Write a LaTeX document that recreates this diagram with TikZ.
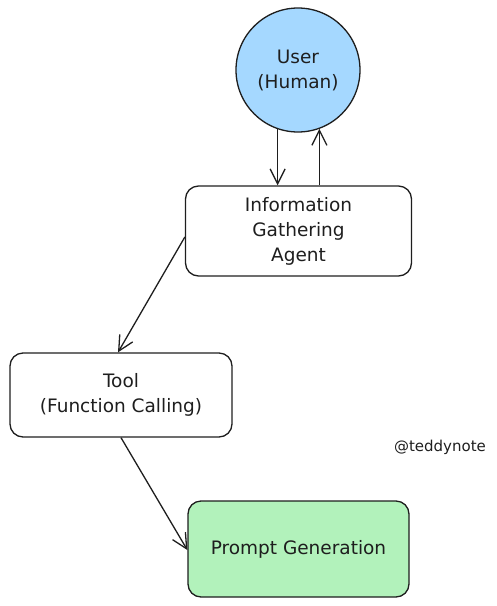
\documentclass[tikz,border=0pt]{standalone}
\usepackage{fontspec}
\setmainfont{DejaVu Sans}
\usetikzlibrary{positioning, arrows.meta}
\definecolor{ink}{HTML}{1E1E1E}
\definecolor{userblue}{HTML}{A5D8FF}
\definecolor{promptgreen}{HTML}{B2F2BB}
\tikzset{
  box/.style={draw=ink, rounded corners=13pt, align=center, text=ink,
    font=\fontsize{18.5}{25}\selectfont, line width=1.3pt},
}
\begin{document}
\begin{tikzpicture}[x=1pt,y=-1pt,line width=1.3pt,draw=ink,
    >={Straight Barb[length=15pt,width=15pt]}]
        \useasboundingbox (0,0) rectangle (497,606);
        \node[circle,draw=ink,fill=userblue,minimum size=124pt,align=center,text=ink,
              font=\fontsize{18.5}{25}\selectfont] (user) at (298,70) {User\\(Human)};
        \node[box,minimum width=226pt,minimum height=90pt] (agent) at (298.5,231)
              {Information\\Gathering\\Agent};
        \node[box,minimum width=222pt,minimum height=84pt] (tool) at (121,395)
              {Tool\\(Function Calling)};
        \node[box,fill=promptgreen,minimum width=221pt,minimum height=96pt] (prompt) at (298.5,549)
              {Prompt Generation};
        \node[text=ink,font=\fontsize{15}{16}\selectfont] (note) at (440,447) {@teddynote};
         \draw[->] (user.-109) -- (user.-109 |- agent.north);
         \draw[->] (agent.north -| user.-70) -- (user.-70);
         \draw[->] ([yshift=-6pt]agent.west) -- ([xshift=-3pt]tool.north);
         \draw[->] (tool.south) -- ([yshift=-1pt]prompt.west);
     \end{tikzpicture}
\end{document}
